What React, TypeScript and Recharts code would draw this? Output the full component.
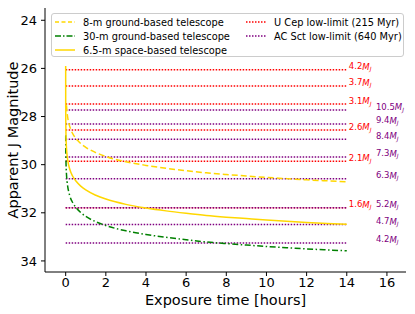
import { LineChart, Line, XAxis, YAxis, ReferenceLine, ReferenceDot } from "recharts";

// 6.5-m space-based telescope (solid gold)
const spaceHours = [0, 0.0005, 0.002, 0.005, 0.01, 0.03, 0.06, 0.1, 0.2, 0.35, 0.5, 0.75, 1, 1.5, 2, 3, 4, 5, 6, 7, 8, 9, 10, 11, 12, 13, 14];
const spaceMag = [25.9, 26.92, 27.68, 28.17, 28.55, 29.15, 29.52, 29.8, 30.18, 30.48, 30.67, 30.89, 31.05, 31.27, 31.43, 31.65, 31.8, 31.92, 32.02, 32.11, 32.18, 32.24, 32.3, 32.35, 32.4, 32.44, 32.48];

// 8-m ground-based telescope (dashed gold)
const eightHours = [0.04, 0.06, 0.1, 0.15, 0.25, 0.4, 0.6, 0.8, 1, 1.5, 2, 3, 4, 5, 6, 7, 8, 9, 10, 11, 12, 13, 14];
const eightMag = [27.53, 27.75, 28.03, 28.25, 28.53, 28.78, 29.0, 29.16, 29.28, 29.5, 29.66, 29.88, 30.03, 30.15, 30.25, 30.34, 30.41, 30.47, 30.53, 30.58, 30.63, 30.67, 30.71];

// 30-m ground-based telescope (green dash-dot)
const thirtyHours = [0.002, 0.005, 0.01, 0.02, 0.04, 0.07, 0.1, 0.2, 0.35, 0.5, 0.75, 1, 1.5, 2, 3, 4, 5, 6, 7, 8, 9, 10, 11, 12, 13, 14];
const thirtyMag = [28.78, 29.27, 29.65, 30.03, 30.4, 30.71, 30.9, 31.28, 31.58, 31.77, 31.99, 32.15, 32.37, 32.53, 32.75, 32.9, 33.02, 33.12, 33.21, 33.28, 33.34, 33.4, 33.45, 33.5, 33.54, 33.58];

// limit lines
const uCepMag = [26.06, 26.73, 27.48, 28.56, 29.86, 31.79];
const uCepMass = ["4.2", "3.7", "3.1", "2.6", "2.1", "1.6"];
const acSctMag = [27.73, 28.31, 28.94, 29.68, 30.59, 31.79, 32.49, 33.25];
const acSctMass = ["10.5", "9.4", "8.4", "7.3", "6.3", "5.2", "4.7", "4.2"];

const xTicks = [0, 2, 4, 6, 8, 10, 12, 14, 16];
const yTicks = [24, 26, 28, 30, 32, 34];

const lineStart = 0;
const lineEnd = 14;
const uCepLabelX = 14.1;
const acSctLabelX = 15.45;

const toPoints = (hours: number[], mags: number[]) => hours.map((h, i) => ({ h, m: mags[i] }));

const FONT = "'DejaVu Sans', sans-serif";
const GOLD = "#FFD700";

const massLabel = (mass: string, color: string) => (props: any) => (
  <text x={props.cx} y={props.cy - 3} fill={color} fontSize={8.5} fontFamily={FONT} dominantBaseline="middle">
    {mass}
    <tspan fontStyle="italic">M</tspan>
    <tspan fontStyle="italic" fontSize={6} dy={2.5}>J</tspan>
  </text>
);

const LegendItem = ({ dash, color, label }: { dash?: string; color: string; label: string }) => (
  <div style={{ display: "flex", alignItems: "center", height: 14 }}>
    <svg width={20} height={6} style={{ marginRight: 8 }}>
      <line x1={0} y1={3} x2={20} y2={3} stroke={color} strokeWidth={1.5} strokeDasharray={dash} />
    </svg>
    <span>{label}</span>
  </div>
);

const App = () => {
  return (
    <div style={{ position: "absolute", left: 0, top: 0, width: 415, height: 314, fontFamily: FONT }}>
      <LineChart width={415} height={314} margin={{ top: 8, right: 9, left: 0, bottom: 0 }}>
        <XAxis
          dataKey="h"
          type="number"
          domain={[-1.03, 16.95]}
          ticks={xTicks}
          allowDataOverflow
          height={42}
          tickSize={4}
          stroke="#000"
          tick={{ fill: "#000", fontSize: 13, fontFamily: FONT }}
          label={{
            content: ({ viewBox }: any) => (
              <text x={viewBox.x + viewBox.width / 2} y={305} textAnchor="middle" fontSize={14.5} fontFamily={FONT} fill="#000">
                Exposure time [hours]
              </text>
            ),
          }}
        />
        <XAxis xAxisId="top" orientation="top" type="number" domain={[0, 1]} height={0} tick={false} tickLine={false} stroke="#000" />
        <YAxis
          type="number"
          reversed
          domain={[23.49, 34.46]}
          ticks={yTicks}
          allowDataOverflow
          width={45}
          tickSize={4}
          tickMargin={4}
          stroke="#000"
          tick={{ fill: "#000", fontSize: 13, fontFamily: FONT }}
          label={{
            content: ({ viewBox }: any) => (
              <text
                x={14}
                y={viewBox.y + viewBox.height / 2}
                transform={`rotate(-90 14 ${viewBox.y + viewBox.height / 2})`}
                textAnchor="middle"
                dominantBaseline="middle"
                fontSize={14.5}
                fontFamily={FONT}
                fill="#000"
              >
                Apparent J Magnitude
              </text>
            ),
          }}
        />
        <YAxis yAxisId="right" orientation="right" type="number" domain={[0, 1]} width={0} tick={false} tickLine={false} stroke="#000" />

        {uCepMag.map((m, i) => (
          <ReferenceLine
            key={`u${i}`}
            segment={[{ x: lineStart, y: m }, { x: lineEnd, y: m }]}
            stroke="red"
            strokeWidth={1.5}
            strokeDasharray="1.5 1.5"
          />
        ))}
        {acSctMag.map((m, i) => (
          <ReferenceLine
            key={`a${i}`}
            segment={[{ x: lineStart, y: m }, { x: lineEnd, y: m }]}
            stroke="purple"
            strokeWidth={1.5}
            strokeDasharray="1.5 1.5"
          />
        ))}

        <Line data={toPoints(eightHours, eightMag)} dataKey="m" type="monotone" stroke={GOLD} strokeWidth={1.5} strokeDasharray="6 3" dot={false} isAnimationActive={false} />
        <Line data={toPoints(thirtyHours, thirtyMag)} dataKey="m" type="monotone" stroke="green" strokeWidth={1.5} strokeDasharray="6 2.5 1.5 2.5" dot={false} isAnimationActive={false} />
        <Line data={toPoints(spaceHours, spaceMag)} dataKey="m" type="monotone" stroke={GOLD} strokeWidth={1.5} dot={false} isAnimationActive={false} />

        {uCepMag.map((m, i) => (
          <ReferenceDot key={`ul${i}`} x={uCepLabelX} y={m} r={0} shape={massLabel(uCepMass[i], "red")} />
        ))}
        {acSctMag.map((m, i) => (
          <ReferenceDot key={`al${i}`} x={acSctLabelX} y={m} r={0} shape={massLabel(acSctMass[i], "purple")} />
        ))}
      </LineChart>

      <div
        style={{
          position: "absolute",
          left: 51,
          top: 13,
          width: 353,
          height: 44,
          boxSizing: "border-box",
          border: "1px solid #ccc",
          borderRadius: 3,
          background: "rgba(255,255,255,0.8)",
          fontSize: 9.8,
          padding: "1px 0 0 3px",
          display: "flex",
        }}
      >
        <div style={{ width: 191 }}>
          <LegendItem color={GOLD} dash="4 2.5" label="8-m ground-based telescope" />
          <LegendItem color="green" dash="6 2 1.5 2" label="30-m ground-based telescope" />
          <LegendItem color={GOLD} label="6.5-m space-based telescope" />
        </div>
        <div>
          <LegendItem color="red" dash="1.5 1.5" label="U Cep low-limit (215 Myr)" />
          <LegendItem color="purple" dash="1.5 1.5" label="AC Sct low-limit (640 Myr)" />
        </div>
      </div>
    </div>
  );
};

export default App;
